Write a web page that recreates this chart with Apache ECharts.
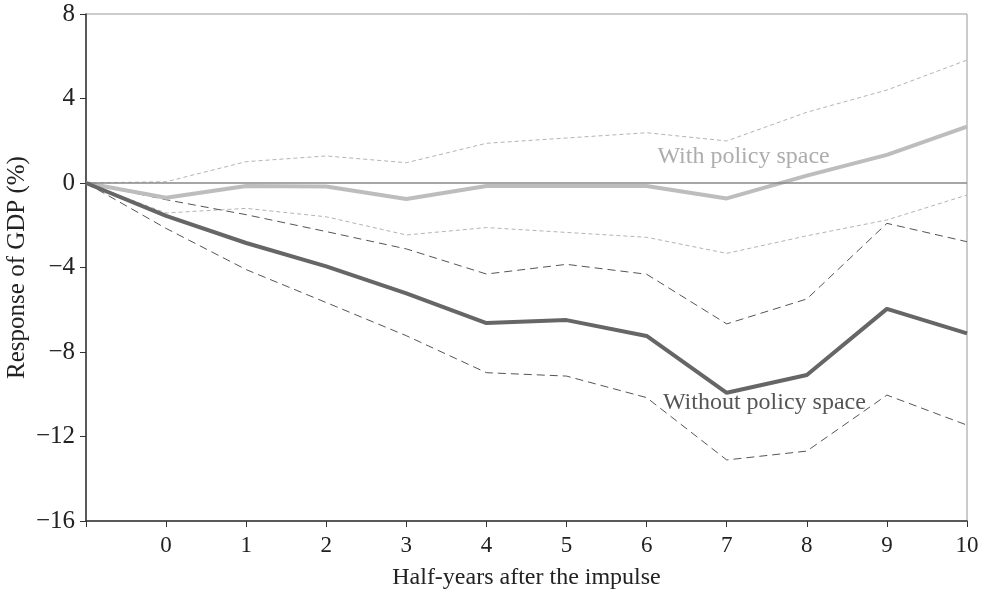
<!DOCTYPE html>
<html>
<head>
<meta charset="utf-8">
<script src="https://cdn.jsdelivr.net/npm/echarts@6/dist/echarts.min.js"></script>
<style>
html,body{margin:0;padding:0;background:#fff;}
#chart{width:987px;height:590px;}
</style>
</head>
<body>
<div id="chart"></div>
<script>
// Data
var steps = [-1, 0, 1, 2, 3, 4, 5, 6, 7, 8, 9, 10];
var withoutSpace = [0, -1.56, -2.84, -3.95, -5.22, -6.63, -6.49, -7.24, -9.93, -9.09, -5.96, -7.12];
var withoutUpper = [0, -0.79, -1.5, -2.3, -3.12, -4.31, -3.85, -4.32, -6.67, -5.49, -1.91, -2.78];
var withoutLower = [0, -2.15, -4.1, -5.66, -7.23, -8.98, -9.14, -10.16, -13.11, -12.69, -10.04, -11.46];
var withSpace = [0, -0.7, -0.14, -0.17, -0.76, -0.14, -0.14, -0.14, -0.73, 0.35, 1.33, 2.67];
var withUpper = [0, 0.06, 1.01, 1.28, 0.96, 1.88, 2.13, 2.38, 1.99, 3.35, 4.4, 5.82];
var withLower = [0, -1.42, -1.2, -1.6, -2.46, -2.11, -2.34, -2.57, -3.33, -2.5, -1.75, -0.57];
var yTicks = [-16, -12, -8, -4, 0, 4, 8];
var xLabels = ['', '0', '1', '2', '3', '4', '5', '6', '7', '8', '9', '10'];

function pairs(arr){ return steps.map(function(s,i){ return [s, arr[i]]; }); }

var font = 'Liberation Serif';
var chart = echarts.init(document.getElementById('chart'), null, {renderer:'canvas'});

function dashed(name, data, color, dash, z){
  return {
    name: name, type: 'line', data: pairs(data), symbol: 'none', z: z,
    lineStyle: {color: color, width: 1, type: dash}, silent: true
  };
}

chart.setOption({
  animation: false,
  backgroundColor: '#fff',
  grid: {left: 86, right: 20, top: 14, bottom: 69, show: true, borderColor: '#999', borderWidth: 1,
         outerBoundsMode: 'none', containLabel: false},
  xAxis: {
    type: 'value', min: -1, max: 10, interval: 1,
    name: 'Half-years after the impulse', nameLocation: 'middle', nameGap: 45, nameMoveOverlap: false,
    nameTextStyle: {fontFamily: font, fontSize: 24, color: '#222'},
    axisLine: {show: true, onZero: false, lineStyle: {color: '#333', width: 1.5}},
    axisTick: {show: true, length: 6, lineStyle: {color: '#333'}},
    axisLabel: {fontFamily: font, fontSize: 23, color: '#222', margin: 13,
      formatter: function(v){ var i = steps.indexOf(v); return i >= 0 ? xLabels[i] : ''; }},
    splitLine: {show: false}
  },
  yAxis: {
    type: 'value', min: yTicks[0], max: yTicks[yTicks.length-1], interval: 4,
    name: 'Response of GDP (%)', nameLocation: 'middle', nameGap: 56, nameRotate: 90, nameMoveOverlap: false,
    nameTextStyle: {fontFamily: font, fontSize: 25, color: '#222'},
    axisLine: {show: true, onZero: false, lineStyle: {color: '#333', width: 1.5}},
    axisTick: {show: true, length: 6, lineStyle: {color: '#333'}},
    axisLabel: {fontFamily: font, fontSize: 25, color: '#222', margin: 11,
      formatter: function(v){ return v < 0 ? '\u2212' + Math.abs(v) : String(v); }},
    splitLine: {show: false}
  },
  series: [
    {
      name: 'zero', type: 'line', data: [], silent: true,
      markLine: {silent: true, symbol: 'none', label: {show: false},
        lineStyle: {color: '#888', width: 1.5, type: 'solid'},
        data: [{yAxis: 0}]}
    },
    dashed('withUpper', withUpper, '#b4b4b4', [4, 3], 2),
    dashed('withLower', withLower, '#b4b4b4', [4, 3], 2),
    dashed('withoutUpper', withoutUpper, '#555', [8, 5], 3),
    dashed('withoutLower', withoutLower, '#555', [8, 5], 3),
    {
      name: 'With policy space', type: 'line', data: pairs(withSpace), symbol: 'none', z: 4,
      lineStyle: {color: '#bdbdbd', width: 4}, silent: true,
      markPoint: {symbol: 'circle', symbolSize: 0, silent: true,
        label: {show: true, formatter: 'With policy space', fontFamily: font, fontSize: 24, color: '#adadad', position: 'inside'},
        data: [{coord: [7.21, 1.23]}]}
    },
    {
      name: 'Without policy space', type: 'line', data: pairs(withoutSpace), symbol: 'none', z: 5,
      lineStyle: {color: '#666', width: 4}, silent: true,
      markPoint: {symbol: 'circle', symbolSize: 0, silent: true,
        label: {show: true, formatter: 'Without policy space', fontFamily: font, fontSize: 24, color: '#555', position: 'inside'},
        data: [{coord: [7.47, -10.4]}]}
    }
  ]
});
</script>
</body>
</html>
